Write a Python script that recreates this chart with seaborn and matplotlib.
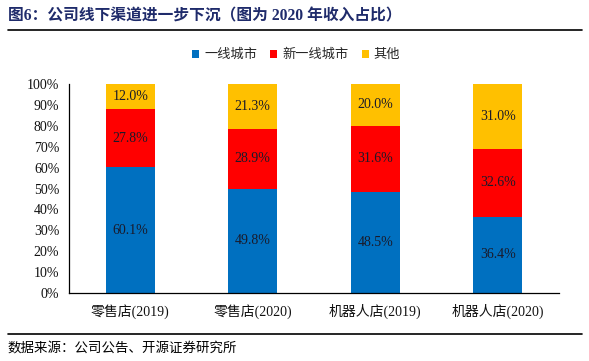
import matplotlib
matplotlib.use("Agg")
import matplotlib.pyplot as plt
from matplotlib.lines import Line2D
from matplotlib.patches import Patch
import seaborn as sns
import pandas as pd
import numpy as np

categories = ["零售店(2019)", "零售店(2020)", "机器人店(2019)", "机器人店(2020)"]
tier1 = [60.1, 49.8, 48.5, 36.4]
new_tier1 = [27.8, 28.9, 31.6, 32.6]
others = [12.0, 21.3, 20.0, 31.0]
series_names = ["一线城市", "新一线城市", "其他"]
colors = ["#0070C0", "#FF0000", "#FFC000"]
yticks = list(range(0, 101, 10))

sns.set_theme(style="white")
FAM = ["Liberation Serif", "Noto Sans CJK SC", "DejaVu Sans"]
plt.rcParams["font.family"] = FAM
plt.rcParams["axes.unicode_minus"] = False

df = pd.DataFrame({"cat": categories, "t1": tier1, "n1": new_tier1, "ot": others})
df["c1"] = df["t1"]
df["c2"] = df["t1"] + df["n1"]
df["c3"] = df["c2"] + df["ot"]

fig = plt.figure(figsize=(5.89, 3.61), dpi=100)
ax = fig.add_axes([69 / 589, 1 - 293 / 361, (559 - 69) / 589, (293 - 84) / 361])

for col, c in zip(["c3", "c2", "c1"], [colors[2], colors[1], colors[0]]):
    sns.barplot(data=df, x="cat", y=col, color=c, width=0.4, ax=ax,
                saturation=1, edgecolor="none", linewidth=0, errorbar=None)

# labels
for i, row in df.iterrows():
    segs = [(0, row["t1"]), (row["t1"], row["n1"]), (row["c2"], row["ot"])]
    for b, h in segs:
        ax.text(i, b + h / 2, f"{h:.1f}%", ha="center", va="center",
                fontsize=10, color="#1a1a2a", family=FAM)

ax.set_xlim(-0.5, len(categories) - 0.5)
ax.set_ylim(0, 100)
ax.set_yticks(yticks)
ax.set_yticklabels([f"{v}%" for v in yticks], fontsize=10, color="#111111")
ax.set_xlabel("")
ax.set_ylabel("")
ax.set_xticks(range(len(categories)))
ax.set_xticklabels(categories, fontsize=10, color="#111111")
ax.tick_params(axis="y", length=0, pad=7)
ax.tick_params(axis="x", length=0, pad=8)
# minor ticks at category boundaries
ax.set_xticks(np.arange(-0.5, len(categories)), minor=True)
ax.tick_params(axis="x", which="minor", direction="in", length=4, width=0.8, color="black")
for s in ["top", "right"]:
    ax.spines[s].set_visible(False)
for s in ["left", "bottom"]:
    ax.spines[s].set_color("black")
    ax.spines[s].set_linewidth(0.9)

# legend
handles = [Patch(facecolor=c, edgecolor="none") for c in colors]
leg = fig.legend(handles, series_names, loc="center", bbox_to_anchor=(296 / 589, 1 - 55 / 361),
                 ncol=3, frameon=False, handlelength=0.55, handleheight=0.55,
                 handletextpad=0.35, columnspacing=1.0, prop={"family": FAM, "size": 9.5})

# title and rules
fig.text(8 / 589, 1 - 16 / 361, "图6：公司线下渠道进一步下沉（图为 2020 年收入占比）",
         fontsize=11.3, fontweight="bold", color="#1F2B6B", ha="left", va="center", family=FAM)
fig.add_artist(Line2D([8 / 589, 582 / 589], [1 - 30 / 361] * 2, color="black", lw=1.2,
                      transform=fig.transFigure))
fig.add_artist(Line2D([8 / 589, 582 / 589], [1 - 334 / 361] * 2, color="black", lw=1.2,
                      transform=fig.transFigure))
fig.text(8 / 589, 1 - 348 / 361, "数据来源：公司公告、开源证券研究所",
         fontsize=9.7, color="black", ha="left", va="center", family=FAM)

fig.savefig("out.png", dpi=100)
